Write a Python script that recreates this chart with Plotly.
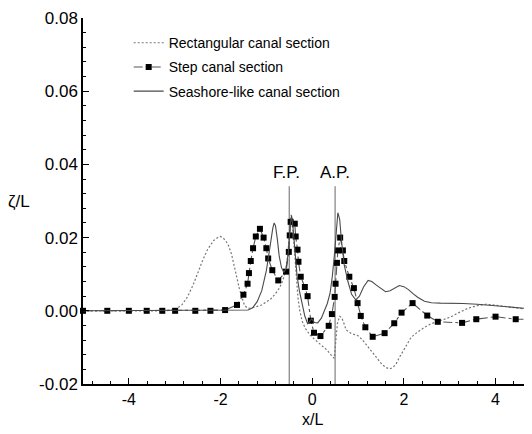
import plotly.graph_objects as go

# ---- data ----
rect_x = [-5, -3.2, -3.0, -2.85, -2.72, -2.6, -2.5, -2.4, -2.28, -2.15, -2.05, -2.0, -1.94, -1.84,
          -1.76, -1.7, -1.64, -1.59, -1.53, -1.48, -1.42, -1.37, -1.25, -1.12, -1.0, -0.9, -0.8,
          -0.71, -0.64, -0.58, -0.54, -0.51, -0.48, -0.46, -0.44, -0.41, -0.38, -0.35, -0.31,
          -0.27, -0.22, -0.15, -0.05, 0.05, 0.15, 0.25, 0.33, 0.4, 0.45, 0.48, 0.51, 0.55, 0.6,
          0.64, 0.68, 0.74, 0.85, 1.0, 1.1, 1.21, 1.32, 1.43, 1.52, 1.61, 1.69, 1.76, 1.83, 1.9,
          1.97, 2.05, 2.16, 2.3, 2.45, 2.6, 2.8, 3.0, 3.2, 3.4, 3.6, 3.8, 4.0, 4.3, 4.6, 4.97]
rect_y = [0, 0, 0.0003, 0.0015, 0.0038, 0.007, 0.0102, 0.0135, 0.0168, 0.0192, 0.0201, 0.0203,
          0.0199, 0.0183, 0.0155, 0.012, 0.0088, 0.0061, 0.0036, 0.0016, 0.0008, 0.0007, 0.001,
          0.0015, 0.0024, 0.0033, 0.0047, 0.0063, 0.0083, 0.011, 0.0145, 0.019, 0.024, 0.0262,
          0.0255, 0.0205, 0.0147, 0.008, 0.0035, 0.0, -0.0028, -0.0048, -0.0066, -0.0078,
          -0.0088, -0.0098, -0.0108, -0.0119, -0.0128, -0.013, -0.009, -0.0035, -0.0015,
          -0.0018, -0.003, -0.0052, -0.0062, -0.0068, -0.008, -0.0097, -0.0115, -0.0133,
          -0.0146, -0.0155, -0.0159, -0.0155, -0.0145, -0.0128, -0.0112, -0.0095, -0.0072,
          -0.0058, -0.0045, -0.0035, -0.0027, -0.0018, -0.0005, 0.0007, 0.0014, 0.0018, 0.0015,
          0.001, 0.0005, 0.0]

step_x = [-5.0, -4.47, -4.0, -3.61, -3.27, -2.99, -2.55, -2.22, -1.9, -1.64, -1.5, -1.41, -1.38,
          -1.34, -1.29, -1.23, -1.14, -1.06, -1.0, -0.96, -0.87, -0.74, -0.57, -0.51, -0.49,
          -0.47, -0.38, -0.36, -0.32, -0.30, -0.25, -0.16, -0.10, -0.03, 0.04, 0.18, 0.36,
          0.43, 0.49, 0.51, 0.54, 0.56, 0.61, 0.67, 0.70, 0.81, 0.91, 0.99, 1.06, 1.16, 1.32,
          1.58, 1.79, 1.95, 2.19, 2.51, 2.74, 3.27, 3.58, 4.0, 4.44, 4.93]
step_y = [0, 0, 0, 0, 0, 0, 0, 0, 0.0002, 0.0016, 0.0044, 0.0074, 0.0103, 0.0136, 0.0171, 0.0203,
          0.0224, 0.0200, 0.0171, 0.0143, 0.0111, 0.0083, 0.0107, 0.0161, 0.0206, 0.0243,
          0.0238, 0.0203, 0.0167, 0.0134, 0.0093, 0.0065, 0.0040, -0.0027, -0.0060, -0.0069,
          -0.0041, -0.0009, 0.0038, 0.0074, 0.0131, 0.0165, 0.0200, 0.0165, 0.0136, 0.0093,
          0.0062, 0.0021, -0.0014, -0.0045, -0.0071, -0.0061, -0.0034, -0.0005, 0.0021,
          -0.0013, -0.0030, -0.0033, -0.0023, -0.0016, -0.0023, -0.0023]

sea_x = [-5, -3, -2, -1.6, -1.4, -1.3, -1.2, -1.1, -1.0, -0.95, -0.9, -0.86, -0.83, -0.8, -0.76,
         -0.72, -0.67, -0.62, -0.57, -0.52, -0.48, -0.45, -0.42, -0.38, -0.33, -0.28, -0.22,
         -0.16, -0.1, -0.05, -0.01, 0.05, 0.12, 0.2, 0.27, 0.33, 0.39, 0.44, 0.49, 0.53, 0.56,
         0.6, 0.64, 0.7, 0.78, 0.86, 0.95, 1.03, 1.12, 1.22, 1.3, 1.4, 1.5, 1.6, 1.7, 1.8, 1.9,
         2.0, 2.1, 2.2, 2.3, 2.45, 2.6, 2.8, 3.0, 3.3, 3.6, 4.0, 4.4, 4.8, 4.97]
sea_y = [0, 0, 0, 0, 0.0002, 0.0008, 0.0025, 0.0055, 0.011, 0.015, 0.0195, 0.0225, 0.024, 0.0232,
         0.0195, 0.015, 0.0118, 0.0105, 0.0115, 0.016, 0.0235, 0.026, 0.023, 0.016, 0.0095,
         0.0055, 0.0015, -0.0015, -0.0035, -0.0028, -0.0022, -0.0032, -0.0033, -0.002, 0.0,
         0.002, 0.0048, 0.0095, 0.016, 0.023, 0.0268, 0.025, 0.019, 0.0125, 0.008, 0.0045,
         0.003, 0.004, 0.0065, 0.0083, 0.008, 0.007, 0.006, 0.0052, 0.0055, 0.0063, 0.0069,
         0.0066, 0.0058, 0.0047, 0.0037, 0.0026, 0.0022, 0.0021, 0.0021, 0.002, 0.0018, 0.0014,
         0.0010, 0.0005, 0.0002]

series_names = ["Rectangular canal section", "Step canal section", "Seashore-like canal section"]

marker_x = [-0.5, 0.5]          # F.P. and A.P. positions (x/L)
marker_labels = ["F.P.", "A.P."]
marker_label_x = [-0.56, 0.5]
marker_top = 0.034              # top of the F.P./A.P. lines (ζ/L)
label_level = 0.0377

x_tick_vals = [-4, -2, 0, 2, 4]
x_tick_text = ["-4", "-2", "0", "2", "4"]
y_tick_vals = [-0.02, 0.0, 0.02, 0.04, 0.06, 0.08]
y_tick_text = ["-0.02", "0.00", "0.02", "0.04", "0.06", "0.08"]

FONT = "Liberation Sans, Arial, Helvetica, sans-serif"

fig = go.Figure()

# F.P. / A.P. vertical lines
for xv in marker_x:
    fig.add_trace(go.Scatter(x=[xv, xv], y=[y_tick_vals[0], marker_top], mode="lines",
                             line=dict(color="#8a8a8a", width=1.3), showlegend=False,
                             hoverinfo="skip"))

fig.add_trace(go.Scatter(x=rect_x, y=rect_y, mode="lines", name=series_names[0],
                         line=dict(color="#777777", width=1.2, dash="2px,2px"),
                         legendgroup="a"))
fig.add_trace(go.Scatter(x=step_x, y=step_y, mode="lines+markers", name=series_names[1],
                         line=dict(color="#555555", width=1.1, dash="dashdot"),
                         marker=dict(symbol="square", size=6, color="black"),
                         cliponaxis=False, legendgroup="b"))
fig.add_trace(go.Scatter(x=sea_x, y=sea_y, mode="lines", name=series_names[2],
                         line=dict(color="#4a4a4a", width=1.1),
                         legendgroup="c"))

for xv, txt in zip(marker_label_x, marker_labels):
    fig.add_annotation(x=xv, y=label_level, text=txt,
                       showarrow=False, font=dict(family=FONT, size=17, color="black"),
                       xanchor="center", yanchor="middle")

fig.add_annotation(xref="paper", yref="paper", x=-0.14, y=0.50, text="ζ/L", showarrow=False,
                   font=dict(family=FONT, size=17, color="black"), xanchor="center",
                   yanchor="middle")

# x-axis title as an annotation so that it stays inside the page
fig.add_annotation(xref="x", yref="paper", x=0, y=-0.098, text="x/L", showarrow=False,
                   font=dict(family=FONT, size=16, color="black"), xanchor="center",
                   yanchor="middle")

fig.update_layout(
    width=532, height=434,
    margin=dict(l=75, r=0, t=10, b=58),
    paper_bgcolor="white", plot_bgcolor="white",
    font=dict(family=FONT, size=16, color="black"),
    legend=dict(x=0.10, y=0.975, xanchor="left", yanchor="top",
                bgcolor="rgba(0,0,0,0)", font=dict(family=FONT, size=14, color="black"),
                tracegroupgap=3, traceorder="grouped"),
)
fig.update_xaxes(range=[-5, 4.97], tickvals=x_tick_vals, ticktext=x_tick_text,
                 ticks="inside", ticklen=6, tickwidth=1.2, tickcolor="black",
                 minor=dict(ticks="inside", dtick=0.4, ticklen=3, tickcolor="black"),
                 showline=True, linecolor="black", linewidth=1.5, showgrid=False,
                 zeroline=False, tickfont=dict(family=FONT, size=16))
fig.update_yaxes(range=[-0.02, 0.08], tickvals=y_tick_vals, ticktext=y_tick_text,
                 ticks="inside", ticklen=6, tickwidth=1.2, tickcolor="black",
                 minor=dict(ticks="inside", dtick=0.004, ticklen=3, tickcolor="black"),
                 showline=True, linecolor="black", linewidth=1.5, showgrid=False,
                 zeroline=False, tickfont=dict(family=FONT, size=17))

fig.write_html("out.html")
